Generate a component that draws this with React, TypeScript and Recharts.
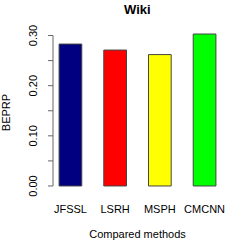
import React from 'react';
import { BarChart, Bar, XAxis, YAxis, Cell, ReferenceLine } from 'recharts';

const categories = ['JFSSL', 'LSRH', 'MSPH', 'CMCNN'];
const positions = [1, 2, 3, 4];
const beprp = [0.283, 0.271, 0.262, 0.303];
const barColors = ['#000080', '#FF0000', '#FFFF00', '#00FF00'];
const yTicks = [0, 0.05, 0.1, 0.15, 0.2, 0.25, 0.3];
const yLabelTicks = ['0.00', '0.10', '0.20', '0.30'];
const xDomain = [0.61, 4.39];
const yDomain = [-0.012, 0.315];

const data = categories.map((name, i) => ({ name, pos: positions[i], value: beprp[i] }));

const FONT = '"Liberation Sans", Arial, Helvetica, sans-serif';

const YTick = (props: any) => {
  const { x, y, payload } = props;
  const label = Number(payload.value).toFixed(2);
  if (!yLabelTicks.includes(label)) return null;
  return (
    <text
      x={x}
      y={y}
      transform={`rotate(-90, ${x}, ${y})`}
      textAnchor="middle"
      fontSize={11}
      fontFamily={FONT}
      fill="#000"
    >
      {label}
    </text>
  );
};

const YLabel = (props: any) => {
  const { viewBox } = props;
  const cy = viewBox.y + viewBox.height / 2 + 2.5;
  const cx = 10;
  return (
    <text
      x={cx}
      y={cy}
      transform={`rotate(-90, ${cx}, ${cy})`}
      textAnchor="middle"
      fontSize={11}
      fontFamily={FONT}
      fill="#000"
    >
      BEPRP
    </text>
  );
};

export default function App() {
  return (
    <div style={{ position: 'absolute', left: 0, top: 0, width: 249, height: 242, background: '#fff' }}>
      <BarChart
        width={249}
        height={242}
        data={data}
        margin={{ top: 28, right: 27, left: 0, bottom: 0 }}
      >
        <XAxis
          dataKey="pos"
          type="number"
          domain={xDomain}
          ticks={positions}
          tickFormatter={(v: number) => categories[v - 1]}
          axisLine={false}
          tickLine={false}
          tickSize={6}
          tickMargin={7}
          height={50}
          interval={0}
          tick={{ fontSize: 11, fontFamily: FONT, fill: '#000' }}
          label={{
            value: 'Compared methods',
            position: 'insideBottom',
            offset: 4,
            style: { fontSize: 11, fontFamily: FONT, fill: '#000' },
          }}
        />
        <YAxis
          type="number"
          domain={yDomain}
          ticks={yTicks}
          width={53}
          axisLine={false}
          tickLine={{ stroke: '#666', strokeWidth: 1 }}
          tickSize={5}
          tickMargin={11}
          interval={0}
          tick={<YTick />}
          label={<YLabel />}
        />
        <ReferenceLine
          segment={[
            { x: xDomain[0], y: yTicks[0] },
            { x: xDomain[0], y: yTicks[yTicks.length - 1] },
          ]}
          stroke="#666"
          strokeWidth={1}
          ifOverflow="visible"
        />
        <Bar dataKey="value" barSize={22.7} stroke="#444" strokeWidth={1} isAnimationActive={false}>
          {data.map((d, i) => (
            <Cell key={d.name} fill={barColors[i]} />
          ))}
        </Bar>
      </BarChart>
      <svg
        width={249}
        height={242}
        style={{ position: 'absolute', left: 0, top: 0, pointerEvents: 'none' }}
      >
        <text x={137.3} y={14} textAnchor="middle" fontSize={13} fontWeight="bold" fontFamily={FONT} fill="#000">
          Wiki
        </text>
      </svg>
    </div>
  );
}
